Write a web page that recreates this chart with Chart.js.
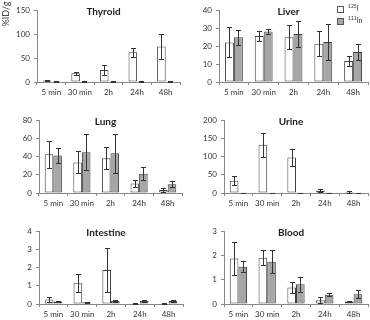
<!DOCTYPE html>
<html><head><meta charset="utf-8">
<script src="https://cdn.jsdelivr.net/npm/chart.js@4"></script>
<style>
html,body{margin:0;padding:0;background:#fff;}
body{width:370px;height:320px;position:relative;overflow:hidden;font-family:Lato,"Liberation Sans",sans-serif;}
.pane{position:absolute;}
#ylab{position:absolute;left:-8px;top:8px;width:28px;height:12px;font-family:Lato,"Liberation Sans",sans-serif;font-size:9px;color:#333;transform:rotate(-90deg);text-align:center;line-height:12px;white-space:nowrap;will-change:transform;}
#legend{position:absolute;left:337px;top:1px;font-family:Lato,"Liberation Sans",sans-serif;font-size:7px;color:#333;line-height:10px;will-change:transform;transform:translateZ(0);}
#legend .sw{display:inline-block;width:5px;height:5px;border:1px solid #555;margin-right:4px;vertical-align:middle;}
#legend sup{font-size:5px;vertical-align:3px;}
</style></head>
<body>
<div id="ylab">%ID/g</div>
<div id="legend">
<div><span class="sw" style="background:#fff"></span><sup>125</sup>I</div>
<div><span class="sw" style="background:#a6a6a6"></span><sup>111</sup>In</div>
</div>
<script>
const categories = ['5 min','30 min','2h','24h','48h'];

const thyroidI = [3, 18, 25, 62, 74];
const thyroidIErr = [1, 3, 11, 9, 26];
const thyroidIn = [1.5, 0.8, 0.8, 1.2, 0.8];
const thyroidInErr = [0.5, 0.3, 0.3, 0.4, 0.3];

const liverI = [22, 25.5, 24.8, 21.3, 11.7];
const liverIErr = [8.3, 2.7, 6.7, 6.8, 2.8];
const liverIn = [24.8, 28, 26.7, 22.2, 16.7];
const liverInErr = [4, 1.3, 7, 10, 4.2];

const lungI = [42.5, 33.5, 38, 10.5, 3.3];
const lungIErr = [15, 12, 12, 3.5, 2];
const lungIn = [41, 44.7, 43.6, 21, 9.5];
const lungInErr = [8, 20, 21.5, 7, 3.3];

const urineI = [33.6, 132, 97, 6.4, 2.7];
const urineIErr = [12.7, 33, 24, 4, 1.5];
const urineIn = [1, 1, 1, 1, 1];
const urineInErr = [0.3, 0.3, 0.3, 0.3, 0.3];

const intestineI = [0.25, 1.14, 1.86, 0.03, 0.03];
const intestineIErr = [0.16, 0.5, 1.22, 0.01, 0.01];
const intestineIn = [0.14, 0.09, 0.17, 0.17, 0.17];
const intestineInErr = [0.03, 0.02, 0.06, 0.04, 0.04];

const bloodI = [1.87, 1.9, 0.68, 0.15, 0.1];
const bloodIErr = [0.66, 0.31, 0.21, 0.12, 0.03];
const bloodIn = [1.53, 1.74, 0.81, 0.38, 0.4];
const bloodInErr = [0.22, 0.47, 0.32, 0.06, 0.17];

const panels = [
  {title:'Thyroid', I:thyroidI, Ie:thyroidIErr, N:thyroidIn, Ne:thyroidInErr, max:150, step:50, box:[0,0,185,105], area:[37,10,180,82]},
  {title:'Liver', I:liverI, Ie:liverIErr, N:liverIn, Ne:liverInErr, max:40, step:10, box:[185,0,185,105], area:[219,10,368,82]},
  {title:'Lung', I:lungI, Ie:lungIErr, N:lungIn, Ne:lungInErr, max:80, step:20, box:[0,105,185,105], area:[39,120,182,193]},
  {title:'Urine', I:urineI, Ie:urineIErr, N:urineIn, Ne:urineInErr, max:200, step:50, box:[185,105,185,105], area:[224,120,368,193]},
  {title:'Intestine', I:intestineI, Ie:intestineIErr, N:intestineIn, Ne:intestineInErr, max:4, step:1, box:[0,210,185,110], area:[39,231,183,304]},
  {title:'Blood', I:bloodI, Ie:bloodIErr, N:bloodIn, Ne:bloodInErr, max:3, step:1, box:[185,210,185,110], area:[224,231,368,304]}
];

const FONT = 'Lato, "Liberation Sans", sans-serif';

const errPlugin = {
  id:'errbars',
  afterDatasetsDraw(chart){
    const ctx = chart.ctx, ys = chart.scales.y;
    ctx.save();
    ctx.strokeStyle = '#333'; ctx.lineWidth = 1;
    chart.data.datasets.forEach((ds,i)=>{
      const meta = chart.getDatasetMeta(i);
      meta.data.forEach((el,j)=>{
        const v = ds.data[j], e = ds.errors[j];
        const x = Math.round(el.x)+0.5;
        const y1 = Math.round(ys.getPixelForValue(v+e))+0.5;
        const y2 = Math.round(ys.getPixelForValue(Math.max(v-e,0)))+0.5;
        ctx.beginPath();
        ctx.moveTo(x,y1); ctx.lineTo(x,y2);
        ctx.moveTo(x-2.5,y1); ctx.lineTo(x+2.5,y1);
        ctx.moveTo(x-2.5,y2); ctx.lineTo(x+2.5,y2);
        ctx.stroke();
      });
    });
    ctx.restore();
  }
};
const titlePlugin = {
  id:'ptitle',
  afterDraw(chart){
    const a = chart.chartArea, ctx = chart.ctx;
    ctx.save();
    ctx.font = 'bold 10px ' + FONT;
    ctx.fillStyle = '#222';
    ctx.textAlign = 'center'; ctx.textBaseline = 'middle';
    ctx.fillText(chart.options.plugins.ptitle.text, (a.left+a.right)/2 - 5, a.top + 2);
    ctx.restore();
  }
};

panels.forEach(p=>{
  const [bx,by,bw,bh] = p.box;
  const [al,at,ar,ab] = p.area;
  const div = document.createElement('div');
  div.className='pane';
  div.style.left=bx+'px'; div.style.top=by+'px'; div.style.width=bw+'px'; div.style.height=bh+'px';
  const cv = document.createElement('canvas');
  div.appendChild(cv);
  document.body.appendChild(div);
  new Chart(cv, {
    type:'bar',
    data:{
      labels:categories,
      datasets:[
        {label:'125I', data:p.I, errors:p.Ie, backgroundColor:'#ffffff', borderColor:'#404040', borderWidth:1, borderSkipped:false},
        {label:'111In', data:p.N, errors:p.Ne, backgroundColor:'#a6a6a6', borderColor:'#404040', borderWidth:1, borderSkipped:false}
      ]
    },
    options:{
      responsive:true, maintainAspectRatio:false, animation:false,
      layout:{padding:{top:at-by, right:(bx+bw)-ar, left:0, bottom:0}},
      datasets:{bar:{categoryPercentage:0.6, barPercentage:1}},
      plugins:{legend:{display:false}, tooltip:{enabled:false}, ptitle:{text:p.title}},
      scales:{
        x:{
          grid:{display:true, drawOnChartArea:false, offset:true, tickLength:3, color:'#888'},
          border:{color:'#888'},
          ticks:{color:'#333', font:{family:FONT, size:8}, padding:3, maxRotation:0, autoSkip:false},
          afterFit(s){ s.height = (by+bh)-ab; }
        },
        y:{
          min:0, max:p.max,
          grid:{display:true, drawOnChartArea:false, tickLength:3, color:'#888'},
          border:{color:'#888'},
          ticks:{stepSize:p.step, color:'#333', font:{family:FONT, size:8}, padding:4},
          afterFit(s){ s.width = al-bx; }
        }
      }
    },
    plugins:[errPlugin, titlePlugin]
  });
});
</script>
</body></html>
